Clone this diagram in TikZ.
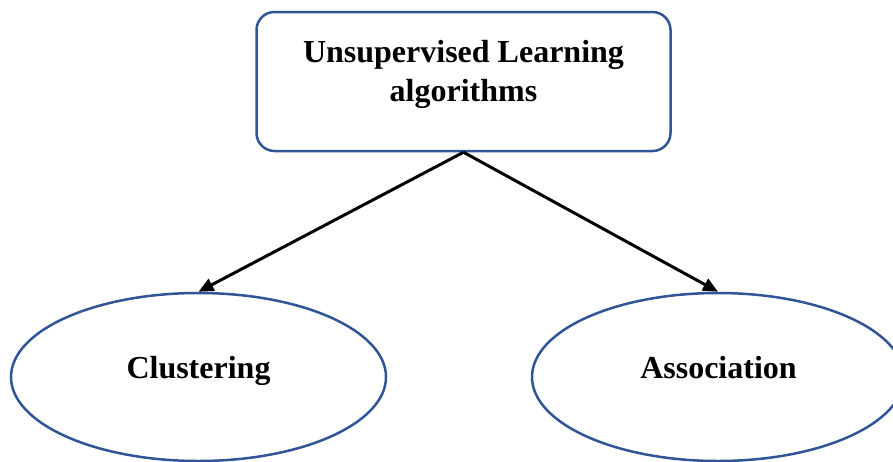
\documentclass[tikz,border=0pt]{standalone}
\usepackage{fontspec}
\setmainfont{Liberation Serif}
\usetikzlibrary{shapes.geometric,arrows.meta}
\definecolor{boxblue}{HTML}{2F5597}
\tikzset{
  shapeline/.style={draw=boxblue, line width=2.5pt},
  txt/.style={font=\fontsize{32}{39}\selectfont\bfseries, align=center},
  link/.style={line width=3pt, -{Triangle[length=15pt,width=13pt]}}
}
\begin{document}
\begin{tikzpicture}[x=1pt,y=-1pt]
    \useasboundingbox (0,0) rectangle (893,461);
    \node[shapeline, rounded corners=18pt, minimum width=414pt, minimum height=139pt] (algo) at (463.5,81.5) {};
    \node[txt] (algotext) at (463.5,74) {Unsupervised Learning\\algorithms};
    \node[shapeline, ellipse, minimum width=375pt, minimum height=168pt] (clus) at (198.5,377) {};
    \node[txt, anchor=base] (clustext) at (198.5,378) {Clustering};
    \node[shapeline, ellipse, minimum width=372pt, minimum height=168pt] (assoc) at (718,377) {};
    \node[txt, anchor=base] (assoctext) at (718.5,378) {Association};
    \draw[link] (algo.south) -- (clus.north);
    \draw[link] (algo.south) -- (assoc.north);
  \end{tikzpicture}
\end{document}
